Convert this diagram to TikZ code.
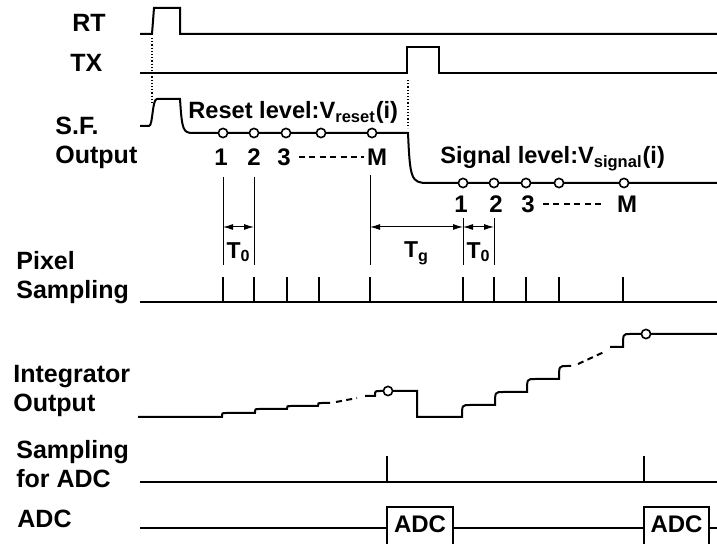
\documentclass[tikz,border=0pt]{standalone}
\usepackage{fontspec}
\setmainfont{Liberation Sans}
\usetikzlibrary{positioning, arrows.meta, calc}
\tikzset{
    wave/.style={line width=1pt},
    guide/.style={line width=0.5pt},
    marker/.style={line width=0.6pt, densely dotted},
    gap line/.style={line width=1pt, dash pattern=on 3pt off 2.2pt},
    sample/.style={circle, draw, line width=0.8pt, fill=white, inner sep=0pt, minimum size=4.6pt},
    sig label/.style={font=\fontsize{12.5}{14.5}\selectfont\bfseries, align=left, inner sep=0pt},
    level label/.style={font=\fontsize{11.8}{13}\selectfont\bfseries, inner sep=0pt},
    num label/.style={font=\fontsize{12}{14}\selectfont\bfseries, inner sep=1pt},
    time label/.style={font=\fontsize{11.5}{13}\selectfont\bfseries, inner sep=0pt},
    dim arrow/.style={line width=0.5pt, {Latex[length=5pt,width=3pt]}-{Latex[length=5pt,width=3pt]}},
    adc box/.style={draw, line width=1pt, fill=white, font=\fontsize{12}{14}\selectfont\bfseries,
        minimum width=33pt, inner sep=2pt, text height=10.5pt, text depth=6.5pt}
}

\begin{document}
\begin{tikzpicture}[x=0.5pt, y=-0.5pt]
    \path[use as bounding box, clip] (0,0) rectangle (717,544);

    % --- Signal names ---
    \node[sig label, anchor=west] (rtname) at (72,23) {RT};
    \node[sig label, anchor=west] (txname) at (70,63) {TX};
    \node[sig label, anchor=west] (sfname) at (55,143) {S.F.\\Output};
    \node[sig label, anchor=west] (pixname) at (16,278) {Pixel\\Sampling};
    \node[sig label, anchor=west] (intname) at (13,391) {Integrator\\Output};
    \node[sig label, anchor=west] (sampname) at (16,464) {Sampling\\for ADC};
    \node[sig label, anchor=west] (adcname) at (17,519) {ADC};

    % --- RT and TX ---
    \draw[wave] (140,34) -- (152,34) -- (154,8) -- (180,8) -- (180,34) -- (717,34);
    \draw[wave] (140,73) -- (407,73) -- (407,47) -- (439,47) -- (439,73) -- (717,73);
    \draw[marker] (152,38) -- (152,104);
    \draw[marker] (408,80) -- (408,128);

    % --- S.F. output ---
    \draw[wave] (140,126) -- (149,126) .. controls (153,126) and (152,99) .. (157,99) -- (180,99)
        .. controls (182,130) and (183,133) .. (193,133) -- (408,133)
        .. controls (410,178) and (411,183) .. (427,183) -- (717,183);
    \foreach \x/\n in {223/1,254/2,286/3,321/4,372/M}
        \node[sample] (rs\n) at (\x,133) {};
    \foreach \x/\n in {463/1,494/2,526/3,559/4,624/M}
        \node[sample] (ss\n) at (\x,183) {};

    \node[level label, anchor=base west] (resetlevel) at (188,119) {Reset level:V\textsubscript{reset}(i)};
    \node[level label, anchor=base west] (signallevel) at (440,164) {Signal level:V\textsubscript{signal}(i)};

    \node[num label] (r1) at (221,157) {1};
    \node[num label] (r2) at (254,157) {2};
    \node[num label] (r3) at (284,157) {3};
    \node[num label] (rM) at (377,157) {M};
    \draw[gap line, shorten <=3pt, shorten >=0.5pt] (r3.east) -- (rM.west);
    \node[num label] (s1) at (461,204) {1};
    \node[num label] (s2) at (496,204) {2};
    \node[num label] (s3) at (528,204) {3};
    \node[num label] (sM) at (627,204) {M};
    \draw[gap line, shorten <=3pt, shorten >=5pt] (s3.east) -- (sM.west);

    % --- Timing marks ---
    \draw[guide] (rs1 |- 0,177) -- (rs1 |- 0,265);
    \draw[guide] (rs2 |- 0,177) -- (rs2 |- 0,265);
    \draw[guide] (370,175) -- (370,265);
    \draw[guide] (ss1 |- 0,218) -- (ss1 |- 0,265);
    \draw[guide] (ss2 |- 0,218) -- (ss2 |- 0,265);
    \draw[dim arrow] (rs1 |- 0,227) -- (rs2 |- 0,227);
    \draw[dim arrow] (370,227) -- (ss1 |- 0,227);
    \draw[dim arrow] (ss1 |- 0,227) -- (ss2 |- 0,227);
    \node[time label] (t0a) at (238.5,252) {T\textsubscript{0}};
    \node[time label] (tg) at (416.5,253) {T\textsubscript{g}};
    \node[time label] (t0b) at (478.5,252) {T\textsubscript{0}};

    % --- Pixel sampling ---
    \draw[wave] (140,302) -- (717,302);
    \foreach \x in {223,254,287,319,370,463,494,526,559,623}
        \draw[wave] (\x,277) -- (\x,302);

    % --- Integrator output ---
    \draw[wave] (138,417) -- (222,417) .. controls (222,413) .. (226,413) -- (255,413)
        .. controls (255,409) .. (259,409) -- (287,409) .. controls (287,406) .. (291,406)
        -- (318,406) .. controls (318,403) .. (322,403) -- (330,403);
    \draw[gap line] (336,402) -- (357,398);
    \draw[wave] (365,396) -- (375,396) .. controls (375,391) .. (380,391) -- (417,391)
        -- (417,417) -- (462,417) .. controls (462,405) .. (470,405) -- (495,405)
        .. controls (495,392) .. (503,392) -- (527,392) .. controls (527,379) .. (535,379)
        -- (559,379) .. controls (559,366) .. (567,366) -- (571,366);
    \draw[gap line] (578,364) -- (604,352);
    \draw[wave] (610,347) -- (623,347) .. controls (623,334) .. (630,334) -- (717,334);
    \node[sample] (int1) at (388,391) {};
    \node[sample] (int2) at (646,334) {};

    % --- Sampling for ADC ---
    \draw[wave] (140,482) -- (717,482);
    \draw[wave] (387,456) -- (387,482);
    \draw[wave] (644,456) -- (644,482);

    % --- ADC ---
    \node[adc box] (adc1) at (420,528) {ADC};
    \node[adc box, minimum width=32.5pt] (adc2) at (676.5,528) {ADC};
    \draw[wave] (140,528) -- (adc1.west);
    \draw[wave] (adc1.east) -- (adc2.west);
    \draw[wave] (adc2.east) -- (717,528);
\end{tikzpicture}
\end{document}
